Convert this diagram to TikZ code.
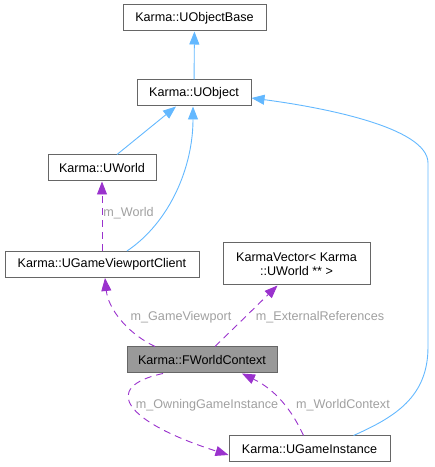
\documentclass[tikz,border=0pt]{standalone}
\usepackage{fontspec}
\setmainfont{Liberation Sans}
\usetikzlibrary{arrows.meta}
\definecolor{inheritblue}{HTML}{63B8FF}
\definecolor{usagepurple}{HTML}{9A32CD}
\definecolor{labelgray}{HTML}{A0A0A0}
\definecolor{boxgray}{HTML}{666666}
\definecolor{focusgray}{HTML}{999999}
\def\icolor{inheritblue}
\def\ucolor{usagepurple}

\begin{document}
\begin{tikzpicture}[x=1pt, y=1pt, font=\fontsize{12.6}{14.5}\selectfont, classbox/.style={rectangle, draw=boxgray, line width=1pt, fill=white, minimum height=26pt, inner sep=0pt}, focusbox/.style={classbox, fill=focusgray}, inherit/.style={\icolor, line width=0.9pt, -{Triangle[length=13pt, width=10pt]}}, usage/.style={\ucolor, line width=0.9pt, dash pattern=on 7pt off 5pt, -{Triangle[length=13pt, width=10pt]}}, edgelabel/.style={text=labelgray, inner sep=1pt}]

  \useasboundingbox (0,0) rectangle (435,467);

  \node[classbox, minimum width=143pt] (uobjectbase) at (194.5,449) {Karma::UObjectBase};
  \node[classbox, minimum width=114pt] (uobject) at (194,374) {Karma::UObject};
  \node[classbox, minimum width=108pt] (uworld) at (102,299) {Karma::UWorld};
  \node[classbox, minimum width=194pt] (viewportclient) at (102,202.5) {Karma::UGameViewportClient};
  \node[classbox, minimum width=147pt, minimum height=42pt, align=center] (worldvector) at (296.5,203) {KarmaVector< Karma\\::UWorld ** >};
  \node[focusbox, minimum width=150pt] (worldcontext) at (202,107) {Karma::FWorldContext};
  \node[classbox, minimum width=161pt] (gameinstance) at (309.5,18) {Karma::UGameInstance};

  \draw[inherit] (uobject) -- (uobjectbase);
  \draw[inherit] ([xshift=15pt]uworld.north) -- ([xshift=-18pt]uobject.south);
  \draw[inherit] ([xshift=25pt]viewportclient.north) .. controls (170,245) and (193,300) .. ([xshift=-1pt]uobject.south);
  \draw[inherit] ([xshift=44pt]gameinstance.north) .. controls (395,50) and (428,70) .. (428,120) -- (428,304) .. controls (428,340) and (320,360) .. ([yshift=-5pt]uobject.east);

  \draw[usage] (viewportclient) -- node[edgelabel, right, pos=0.55] {m\_World} (uworld);
  \draw[usage] ([xshift=-47pt]worldcontext.north) .. controls (125,135) and (108,160) .. ([xshift=3pt]viewportclient.south);
  \node[edgelabel] (gameviewportlabel) at (181,150) {m\_GameViewport};
  \draw[usage] ([xshift=13pt]worldcontext.north) -- ([xshift=-19pt]worldvector.south);
  \node[edgelabel] (externalrefslabel) at (320,150) {m\_ExternalReferences};
  \draw[usage] ([xshift=-39pt]worldcontext.south) .. controls (100,80) and (125,45) .. ([yshift=-6pt]gameinstance.west);
  \node[edgelabel] (owninglabel) at (207,62) {m\_OwningGameInstance};
  \draw[usage] ([xshift=-6pt]gameinstance.north) .. controls (295,50) and (280,75) .. ([xshift=40pt]worldcontext.south);
  \node[edgelabel] (worldcontextlabel) at (343,62) {m\_WorldContext};
\end{tikzpicture}
\end{document}
